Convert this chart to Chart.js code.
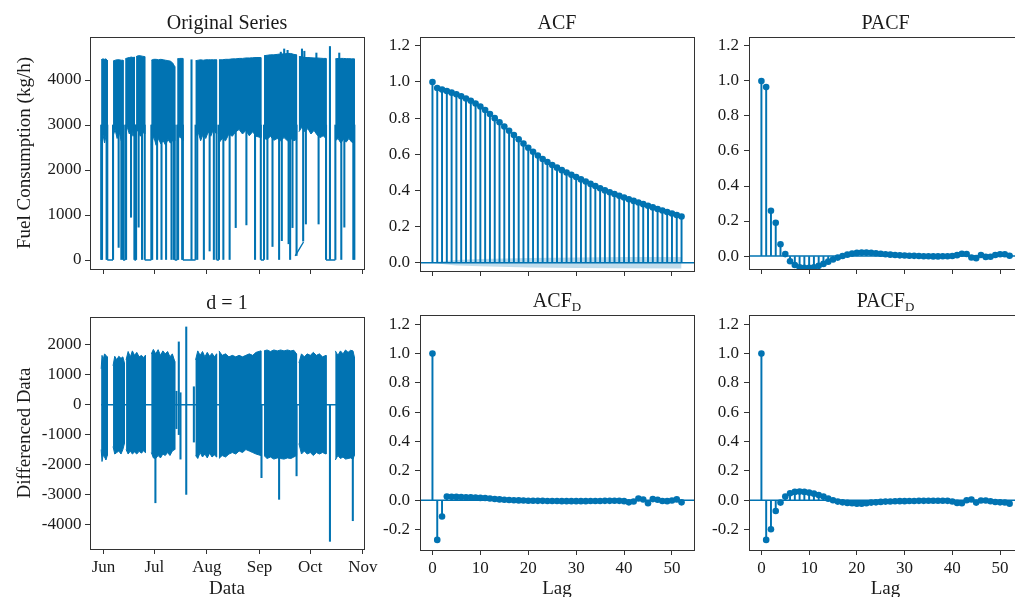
<!DOCTYPE html>
<html>
<head>
<meta charset="utf-8">
<title>Fuel consumption - ACF / PACF</title>
<script src="https://cdn.jsdelivr.net/npm/chart.js@4.4.0/dist/chart.umd.min.js"></script>
<style>
  html, body { margin: 0; padding: 0; background: #ffffff; }
  body { position: relative; width: 1015px; height: 597px; overflow: hidden; }
  canvas { position: absolute; }
</style>
</head>
<body>
<canvas id="origChart"></canvas>
<canvas id="acfChart"></canvas>
<canvas id="pacfChart"></canvas>
<canvas id="diffChart"></canvas>
<canvas id="acfDChart"></canvas>
<canvas id="pacfDChart"></canvas>
<script>
const blue = '#0173b2';
const blueBand = 'rgba(1, 115, 178, 0.25)';
const inkColor = '#1a1a1a';
const frameColor = '#333333';
const serif = "'Liberation Serif', 'Times New Roman', serif";

// ---------- ticks ----------
const monthTicks = [0, 30, 61, 92, 122, 153];          // days since 1 Jun
const monthLabels = ['Jun', 'Jul', 'Aug', 'Sep', 'Oct', 'Nov'];
const origTicks = [0, 1000, 2000, 3000, 4000];
const diffTicks = [-4000, -3000, -2000, -1000, 0, 1000, 2000];
const lagTicks = [0, 10, 20, 30, 40, 50];
const corrTicksTop = [0, 0.2, 0.4, 0.6, 0.8, 1.0, 1.2];
const corrTicksBottom = [-0.2, 0, 0.2, 0.4, 0.6, 0.8, 1.0, 1.2];

// ---------- original series (kg/h) ----------
// dense oscillation drawn as envelope (top / low), null = break between runs
const origBandDay = [-1.4, -0.4, 0.6, 1.4, 2.2, null,
  5.6, 6.8, 8.0, 9.2, 10.4, 11.5, null,
  12.8, 14, 15.2, 16.4, 17.4, 18.2, null,
  19.2, 20.4, 21.6, 22.8, 24.3, null,
  28.2, 29.6, 31, 32.4, 33.8, 35.2, 36.6, 38, 39.4, 40.8, 42, null,
  43.5, 45, 46.8, null,
  54.3, 55.8, 57.3, 58.8, 60.3, 61.8, 63.3, 64.8, 66.7, null,
  68.1, 70, 72, 74, 76, 78, 80, 82, 84, 86, 88, 90, 92.8, null,
  94.7, 96.5, 98.5, 100.5, 102.5, 104.5, 106.5, 108.5, 110.5, 112.3, 113.9, null,
  115.3, 117, 118.8, 120.6, 122.4, 124.2, 126, 127.8, 129.6, 131.3, null,
  136.8, 138.4, 140, 141.6, 143.2, 144.8, 146.4, 148];
const origBandTop = [4450, 4470, 4460, 4470, 4440, null,
  4420, 4440, 4450, 4450, 4440, 4440, null,
  4470, 4490, 4500, 4510, 4500, 4510, null,
  4520, 4540, 4540, 4530, 4520, null,
  4440, 4460, 4460, 4450, 4460, 4450, 4440, 4430, 4420, 4380, 4300, null,
  4470, 4480, 4480, null,
  4430, 4440, 4450, 4440, 4450, 4450, 4450, 4450, 4450, null,
  4450, 4450, 4460, 4460, 4470, 4470, 4480, 4480, 4490, 4490, 4495, 4500, 4500, null,
  4540, 4550, 4560, 4560, 4570, 4580, 4580, 4590, 4590, 4570, 4560, null,
  4520, 4520, 4500, 4500, 4495, 4490, 4490, 4485, 4480, 4480, null,
  4470, 4480, 4480, 4480, 4475, 4475, 4470, 4470];
const origBandLow = [2650, 2800, 2600, 2750, 2700, null,
  2750, 2900, 2700, 2850, 2650, 2800, null,
  2900, 2950, 2800, 2900, 2750, 2850, null,
  2830, 2900, 2750, 2850, 2800, null,
  2560, 2750, 2550, 2700, 2580, 2650, 2550, 2680, 2600, 2650, 2650, null,
  2650, 2750, 2650, null,
  2750, 2850, 2650, 2800, 2700, 2850, 2750, 2900, 2800, null,
  2600, 2700, 2650, 2800, 2750, 2850, 2900, 2800, 2880, 2760, 2850, 2750, 2720, null,
  2700, 2680, 2750, 2660, 2700, 2650, 2720, 2650, 2700, 2650, 2680, null,
  2850, 2950, 2850, 2920, 2800, 2880, 2780, 2720, 2760, 2700, null,
  2650, 2700, 2600, 2680, 2620, 2700, 2620, 2600];
// idle runs
const origFlatDay = [2.2, 5.6, null, 11.5, 12.8, null, 18.2, 19.2, null, 24.3, 28.2, null, 42.0, 43.5, null,
  46.8, 54.3, null, 66.7, 68.1, null, 92.8, 94.7, null, 113.1, 118.0, null, 131.3, 136.8];
const origFlatVal = [0, 0, null, 0, 0, null, 0, 0, null, 0, 0, null, 0, 0, null,
  0, 0, null, 0, 0, null, 0, 0, null, 90, 400, null, 0, 0];
// single drops / spikes
const origLineDay = [-1.4, -0.9, 1.8, 2.2, 5.6, 8.9, 10.5, 11.5, 12.8, 13.3, 16.2, 18.2, 18.8, 19.2, 20.7, 22.7, 24.3,
  28.2, 28.7, 31.6, 34.2, 36.9, 40.1, 41.4, 42.0, 43.5, 44.0, 46.4, 46.8, 51.9, 54.3, 55.3, 59.2, 62.6, 65.1, 66.7,
  68.1, 70.7, 74.4, 78.0, 84.3, 89.4, 92.8, 94.7, 96.7, 99.7, 103.6, 105.2, 109.2, 110.1, 111.5, 113.9, 117.8,
  119.4, 126.9, 131.3, 133.6, 136.8, 140.3, 142.1, 147.4, 148.0,
  104.6, 106.6, 108.6, 117.1, 118.5, 125.6, 139.1];
const origLineLow = [0, 0, 0, 0, 0, 280, 0, 0, 0, 0, 950, 0, 0, 0, 730, 0, 0,
  0, 0, 0, 0, 0, 0, 0, 0, 0, 0, 0, 0, 0, 0, 0, 0, 200, 0, 0,
  0, 0, 0, 720, 780, 0, 0, 0, 0, 300, 0, 430, 360, 0, 720, 100, 420,
  800, 800, 0, 0, 0, 0, 730, 0, 0,
  4400, 4400, 4400, 4400, 4400, 4400, 4400];
const origLineHigh = [3000, 3000, 3000, 3000, 3000, 3000, 3000, 3000, 3000, 3000, 3000, 3000, 3000, 3000, 3000, 3000, 3000,
  3000, 3000, 3000, 3000, 3000, 3000, 3000, 3000, 3000, 3000, 3000, 3000, 4450, 3000, 3000, 3000, 3000, 3000, 3000,
  3000, 3000, 3000, 3000, 3000, 3000, 3000, 3000, 3000, 3000, 3000, 3000, 3000, 3000, 3000, 3000, 3000,
  3000, 3000, 3000, 4745, 3000, 3000, 3000, 3000, 3000,
  4620, 4690, 4660, 4690, 4640, 4600, 4600];

// ---------- differenced series, d = 1 ----------
const diffBandDay = [-1.4, -0.9, -0.3, 0.6, 1.4, 2.2, null,
  5.6, 6.6, 7.8, 9.0, 10.3, 11.4, 12.3, null,
  13.3, 14.5, 15.8, 17, 18.3, 19.6, 21, 22.4, 23.6, 24.7, null,
  28.2, 29.4, 30.8, 32.2, 33.6, 35, 36.4, 37.8, 39.2, 40.6, 42, null,
  54.3, 55.6, 57, 58.4, 59.8, 61.2, 62.6, 64, 65.4, 66.7, null,
  68.1, 70, 72, 74, 76, 78, 80, 82, 84, 86, 88, 90, 92.8, null,
  94.7, 96.5, 98.5, 100.5, 102.5, 104.5, 106.5, 108.5, 110.5, 112.3, 113.9, null,
  115.3, 116.8, 118.5, 120.2, 122, 123.8, 125.6, 127.4, 129.2, 131.3, null,
  136.8, 138.3, 139.8, 141.3, 142.8, 144.3, 145.8, 147.2, 148.0];
const diffBandHigh = [1200, 1650, 1500, 1700, 1650, 1600, null,
  1300, 1620, 1500, 1620, 1550, 1600, 1400, null,
  1500, 1780, 1600, 1800, 1650, 1750, 1600, 1650, 1580, 1650, null,
  1700, 1850, 1700, 1840, 1650, 1800, 1700, 1780, 1600, 1700, 1450, null,
  1500, 1800, 1650, 1780, 1600, 1750, 1620, 1720, 1600, 1700, null,
  1800, 1650, 1700, 1600, 1650, 1600, 1650, 1600, 1650, 1700, 1650, 1750, 1800, null,
  1800, 1830, 1780, 1830, 1800, 1830, 1800, 1830, 1800, 1820, 1700, null,
  1400, 1700, 1600, 1700, 1650, 1750, 1650, 1700, 1600, 1650, null,
  1800, 1650, 1800, 1700, 1830, 1750, 1820, 1800, 1600];
const diffBandLow = [-1500, -1900, -1700, -1750, -1850, -1700, null,
  -1400, -1650, -1600, -1550, -1650, -1500, -1300, null,
  -1500, -1650, -1550, -1650, -1580, -1650, -1560, -1620, -1540, -1600, null,
  -1600, -1780, -1800, -1700, -1780, -1650, -1700, -1600, -1700, -1550, -1500, null,
  -1700, -1800, -1600, -1750, -1650, -1780, -1620, -1750, -1680, -1750, null,
  -1800, -1700, -1750, -1650, -1600, -1650, -1550, -1600, -1500, -1550, -1600, -1650, -1700, null,
  -1700, -1800, -1750, -1820, -1780, -1800, -1820, -1780, -1800, -1750, -1700, null,
  -1300, -1650, -1550, -1650, -1600, -1700, -1600, -1650, -1600, -1650, null,
  -1850, -1700, -1800, -1750, -1820, -1800, -1780, -1820, -1700];
const diffFlatDay = [-1.4, 148.0];
const diffFlatVal = [0, 0];
const diffLineDay = [30.6, 43.0, 44.4, 45.4, 48.8, 53.3, 93.2, 103.6, 113.9, 133.6, 147.1];
const diffLineLow = [-3280, -800, -1000, -1820, -3000, -1250, -2440, -3165, -2380, -4570, -3880];
const diffLineHigh = [0, 450, 2100, 400, 2600, 600, 0, 0, 0, 0, 0];

// ---------- correlations, lags 0..52 ----------
const acfVals = [1.0, 0.967, 0.958, 0.950, 0.941, 0.932, 0.921, 0.909, 0.896, 0.881, 0.864, 0.845, 0.823, 0.800,
  0.777, 0.753, 0.730, 0.706, 0.683, 0.659, 0.636, 0.614, 0.593, 0.574, 0.557, 0.541, 0.526, 0.512, 0.499, 0.486,
  0.474, 0.461, 0.449, 0.436, 0.424, 0.412, 0.400, 0.390, 0.380, 0.370, 0.361, 0.351, 0.342, 0.333, 0.324, 0.315,
  0.306, 0.297, 0.289, 0.280, 0.272, 0.264, 0.256];
const acfConfLag = [0, 1, 5, 10, 20, 30, 40, 52];
const acfConfHalf = [0.001, 0.005, 0.015, 0.02, 0.026, 0.029, 0.031, 0.032];
const pacfVals = [1.0, 0.965, 0.259, 0.19, 0.067, 0.011, -0.03, -0.051, -0.064, -0.067, -0.067, -0.064, -0.056,
  -0.045, -0.032, -0.02, -0.009, 0.0, 0.008, 0.014, 0.018, 0.02, 0.02, 0.019, 0.016, 0.013, 0.01, 0.008, 0.006,
  0.004, 0.003, 0.002, 0.001, 0.0, -0.001, -0.001, -0.002, -0.002, -0.001, -0.001, 0.0, 0.005, 0.013, 0.012,
  -0.008, -0.012, 0.006, -0.005, -0.004, 0.006, 0.01, 0.01, 0.002];
const acfDVals = [1.0, -0.27, -0.111, 0.025, 0.024, 0.023, 0.022, 0.021, 0.02, 0.018, 0.016, 0.015, 0.012, 0.009,
  0.006, 0.004, 0.002, 0.0, -0.001, -0.002, -0.003, -0.003, -0.004, -0.004, -0.005, -0.005, -0.005, -0.006,
  -0.006, -0.006, -0.006, -0.006, -0.006, -0.005, -0.005, -0.005, -0.004, -0.004, -0.003, -0.004, -0.006,
  -0.014, -0.008, 0.012, 0.005, -0.02, 0.008, 0.004, -0.005, -0.006, -0.002, 0.006, -0.014];
const pacfDVals = [1.0, -0.27, -0.198, -0.073, -0.016, 0.025, 0.048, 0.057, 0.059, 0.057, 0.052, 0.045, 0.036,
  0.025, 0.011, 0.0, -0.009, -0.014, -0.018, -0.02, -0.023, -0.023, -0.02, -0.016, -0.014, -0.011, -0.009,
  -0.008, -0.007, -0.006, -0.006, -0.005, -0.005, -0.004, -0.004, -0.003, -0.003, -0.003, -0.003, -0.004,
  -0.008, -0.018, -0.02, 0.0, 0.005, -0.016, -0.002, -0.002, -0.007, -0.012, -0.014, -0.015, -0.023];

const dayMin = -8.0, dayMax = 153.7;
const lagMin = -2.6, lagMax = 54.6;

// ---------- helpers ----------
const framePlugin = {
  id: 'panelFrame',
  afterDraw(chart, args, opts) {
    const { ctx, chartArea: a } = chart;
    const px = v => Math.floor(v) + 0.5;
    ctx.save();
    ctx.strokeStyle = frameColor;
    ctx.lineWidth = 1;
    ctx.strokeRect(px(a.left), px(a.top), px(a.right) - px(a.left), px(a.bottom) - px(a.top));
    if (opts.text) {
      const main = '20px ' + serif, small = '13px ' + serif;
      ctx.font = main;
      const w1 = ctx.measureText(opts.text).width;
      ctx.font = small;
      const w2 = opts.sub ? ctx.measureText(opts.sub).width : 0;
      const x0 = (a.left + a.right) / 2 - (w1 + w2) / 2;
      const y0 = a.top - 8.5;
      ctx.fillStyle = inkColor;
      ctx.textAlign = 'left';
      ctx.textBaseline = 'alphabetic';
      ctx.font = main;
      ctx.fillText(opts.text, x0, y0);
      if (opts.sub) {
        ctx.font = small;
        ctx.fillText(opts.sub, x0 + w1, y0 + 4);
      }
    }
    ctx.restore();
  }
};

const tickGrid = { display: true, drawOnChartArea: false, drawTicks: true, tickLength: 5, tickWidth: 1, tickColor: frameColor, offset: false };

function xAxisCfg(min, max, tickVals, labels, titleText) {
  return {
    type: 'linear', min, max, bounds: 'data', offset: false,
    afterBuildTicks: s => { s.ticks = tickVals.map(v => ({ value: v })); },
    grid: tickGrid,
    border: { display: false },
    ticks: {
      display: !!labels, autoSkip: false, maxRotation: 0, padding: 3, color: inkColor,
      font: { family: serif, size: 17 },
      callback: v => labels ? labels[tickVals.indexOf(v)] : ''
    },
    title: { display: !!titleText, text: titleText || '', color: inkColor, font: { family: serif, size: 19 }, padding: { top: 0, bottom: 2 } }
  };
}

function yAxisCfg(min, max, tickVals, digits, titleText, pad) {
  return {
    type: 'linear', min, max, bounds: 'data',
    afterBuildTicks: s => { s.ticks = tickVals.map(v => ({ value: v })); },
    grid: tickGrid,
    border: { display: false },
    ticks: { autoSkip: false, padding: pad, color: inkColor, font: { family: serif, size: 17 }, callback: v => v.toFixed(digits) },
    title: { display: !!titleText, text: titleText || '', color: inkColor, font: { family: serif, size: 19 }, padding: { top: 13.5, bottom: 0 } }
  };
}

function pts(xs, ys) {
  return xs.map((x, i) => ({ x: x === null ? xs[i - 1] : x, y: ys[i] }));
}
function floating(xs, lows, highs) {
  return xs.map((x, i) => ({ x, y: [lows[i], highs[i]] }));
}
const lineDs = (data, extra) => Object.assign({ type: 'line', data, borderColor: blue, borderWidth: 1.4, pointRadius: 0, fill: false, spanGaps: false, tension: 0 }, extra);
const barDs = (data, extra) => Object.assign({ type: 'bar', data, backgroundColor: blue, borderWidth: 0, barThickness: 1.4, grouped: false }, extra);

// one closed shape per run of the envelope (top forward, low backward)
function bandShapes(xs, his, los) {
  const sets = [];
  let run = [];
  const flush = () => {
    if (run.length) {
      const upper = run.map(i => ({ x: xs[i], y: his[i] }));
      const lower = run.slice().reverse().map(i => ({ x: xs[i], y: los[i] }));
      sets.push(lineDs(upper.concat(lower), { borderWidth: 1, fill: 'shape', backgroundColor: blue }));
    }
    run = [];
  };
  xs.forEach((x, i) => { if (x === null) flush(); else run.push(i); });
  flush();
  return sets;
}

function seriesDatasets(bandX, bandHi, bandLo, flatX, flatY, lineX, lineLo, lineHi) {
  return bandShapes(bandX, bandHi, bandLo).concat([
    lineDs(pts(flatX, flatY)),
    barDs(floating(lineX, lineLo, lineHi))
  ]);
}

function stemDatasets(vals, confLag, confHalf) {
  const sets = [];
  if (confLag) {
    sets.push(lineDs(pts(confLag, confHalf), { borderWidth: 0, fill: '+1', backgroundColor: blueBand, order: 3 }));
    sets.push(lineDs(pts(confLag, confHalf.map(v => -v)), { borderWidth: 0, order: 3 }));
  }
  sets.push(barDs(vals.map((v, i) => ({ x: i, y: v })), { barThickness: 1.3, order: 2 }));
  sets.push(lineDs([{ x: lagMin, y: 0 }, { x: lagMax, y: 0 }], { borderWidth: 1.5, order: 1 }));
  sets.push(lineDs(vals.map((v, i) => ({ x: i, y: v })), { showLine: false, pointRadius: 3.3, pointBackgroundColor: blue, pointBorderWidth: 0, order: 0 }));
  return sets;
}

function makePanel(id, box, frame, xAxis, yAxis, datasets, title) {
  const canvas = document.getElementById(id);
  canvas.width = box.w;
  canvas.height = box.h;
  canvas.style.left = box.x + 'px';
  canvas.style.top = box.y + 'px';
  const yWidth = frame.l - box.x;
  const xHeight = box.y + box.h - frame.b;
  xAxis.afterFit = s => { s.height = xHeight; s.paddingLeft = 0; s.paddingRight = 0; };
  yAxis.afterFit = s => { s.width = yWidth; s.paddingTop = 0; s.paddingBottom = 0; };
  return new Chart(canvas, {
    type: 'bar',
    data: { datasets },
    options: {
      responsive: false,
      animation: false,
      devicePixelRatio: 1,
      layout: { padding: { left: 0, top: frame.t - box.y, right: box.x + box.w - frame.r, bottom: 0 } },
      plugins: { legend: { display: false }, tooltip: { enabled: false }, panelFrame: title },
      scales: { x: xAxis, y: yAxis }
    },
    plugins: [framePlugin]
  });
}

const lagLabels = lagTicks.map(String);

// top row
makePanel('origChart', { x: 0, y: 0, w: 385, h: 290 }, { l: 90, t: 37, r: 364, b: 269 },
  xAxisCfg(dayMin, dayMax, monthTicks, null, null),
  yAxisCfg(-200, 4956, origTicks, 0, 'Fuel Consumption (kg/h)', 3.5),
  seriesDatasets(origBandDay, origBandTop, origBandLow, origFlatDay, origFlatVal, origLineDay, origLineLow, origLineHigh),
  { text: 'Original Series' });

makePanel('acfChart', { x: 372, y: 0, w: 328, h: 290 }, { l: 420, t: 37, r: 694, b: 271 },
  xAxisCfg(lagMin, lagMax, lagTicks, null, null),
  yAxisCfg(-0.046, 1.249, corrTicksTop, 1, null, 5),
  stemDatasets(acfVals, acfConfLag, acfConfHalf),
  { text: 'ACF' });

makePanel('pacfChart', { x: 700, y: 0, w: 327, h: 290 }, { l: 749, t: 37, r: 1022, b: 269 },
  xAxisCfg(lagMin, lagMax, lagTicks, null, null),
  yAxisCfg(-0.074, 1.251, corrTicksTop, 1, null, 5),
  stemDatasets(pacfVals),
  { text: 'PACF' });

// bottom row (canvas runs a little past the window so the axis titles sit low)
makePanel('diffChart', { x: 0, y: 290, w: 385, h: 312 }, { l: 90, t: 317, r: 364, b: 549 },
  xAxisCfg(dayMin, dayMax, monthTicks, monthLabels, 'Data'),
  yAxisCfg(-4826, 2933, diffTicks, 0, 'Differenced Data', 3.5),
  seriesDatasets(diffBandDay, diffBandHigh, diffBandLow, diffFlatDay, diffFlatVal, diffLineDay, diffLineLow, diffLineHigh),
  { text: 'd = 1' });

makePanel('acfDChart', { x: 372, y: 290, w: 328, h: 312 }, { l: 420, t: 315, r: 694, b: 550 },
  xAxisCfg(lagMin, lagMax, lagTicks, lagLabels, 'Lag'),
  yAxisCfg(-0.339, 1.263, corrTicksBottom, 1, null, 5),
  stemDatasets(acfDVals),
  { text: 'ACF', sub: 'D' });

makePanel('pacfDChart', { x: 700, y: 290, w: 327, h: 312 }, { l: 749, t: 315, r: 1022, b: 550 },
  xAxisCfg(lagMin, lagMax, lagTicks, lagLabels, 'Lag'),
  yAxisCfg(-0.339, 1.263, corrTicksBottom, 1, null, 5),
  stemDatasets(pacfDVals),
  { text: 'PACF', sub: 'D' });
</script>
</body>
</html>
